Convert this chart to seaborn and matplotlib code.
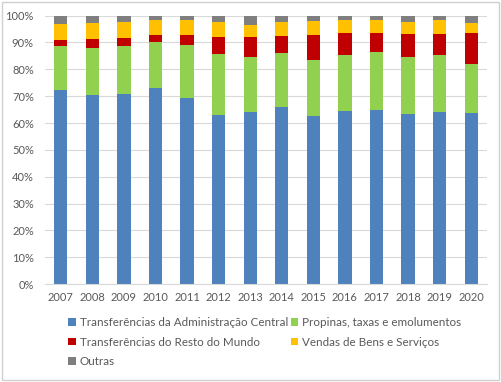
import matplotlib
matplotlib.use("Agg")
import matplotlib.pyplot as plt
from matplotlib.patches import Rectangle, Patch
from matplotlib.ticker import PercentFormatter
import seaborn as sns
import numpy as np
import pandas as pd

# ── Data (shares in %) ──────────────────────────────────────────────────────
years = [2007, 2008, 2009, 2010, 2011, 2012, 2013,
         2014, 2015, 2016, 2017, 2018, 2019, 2020]
transf_adm_central = [72.3, 70.4, 70.8, 72.9, 69.4, 63.1, 64.2,
                      66.0, 62.7, 64.6, 65.0, 63.4, 64.1, 63.7]
propinas = [16.5, 17.4, 17.9, 17.1, 19.7, 22.7, 20.4,
            20.1, 20.8, 20.6, 21.5, 21.2, 21.2, 18.3]
transf_resto_mundo = [2.1, 3.4, 3.1, 2.9, 3.8, 6.4, 7.3,
                      6.3, 9.4, 8.3, 7.0, 8.4, 8.0, 11.4]
vendas = [6.1, 6.1, 6.0, 5.6, 5.4, 5.6, 4.5,
          5.1, 5.0, 4.8, 4.9, 4.8, 5.0, 4.0]
outras = [3.0, 2.7, 2.2, 1.5, 1.7, 2.2, 3.6,
          2.5, 2.1, 1.7, 1.6, 2.2, 1.7, 2.6]

series_names = ["Transferências da Administração Central",
                "Propinas, taxas e emolumentos",
                "Transferências do Resto do Mundo",
                "Vendas de Bens e Serviços",
                "Outras"]
series_values = [transf_adm_central, propinas, transf_resto_mundo, vendas, outras]
COLORS = ["#4F81BD", "#92D050", "#C00000", "#FFC000", "#7F7F7F"]

TEXT = "#595959"
GRID = "#D9D9D9"

sns.set_theme(style="white")
plt.rcParams["font.family"] = ["Lato", "DejaVu Sans"]

df = pd.DataFrame({"year": [str(y) for y in years]})
cum = np.cumsum(np.array(series_values), axis=0)

fig = plt.figure(figsize=(5.02, 3.82), dpi=100)
ax = fig.add_axes([0.0896, 0.2565, 0.8804, 0.7025])

# stacked bars: draw cumulative totals from the top layer down
for i in reversed(range(len(series_names))):
    df["v"] = cum[i]
    sns.barplot(data=df, x="year", y="v", color=COLORS[i], width=0.42,
                saturation=1, ax=ax, linewidth=0)

ax.set_ylim(0, 100)
ax.set_xlim(-0.5, len(years) - 0.5)
ax.set_yticks(np.arange(0, 101, 10))
ax.yaxis.set_major_formatter(PercentFormatter(decimals=0))
ax.set_xlabel("")
ax.set_ylabel("")
ax.tick_params(axis="both", length=0, labelsize=8, colors=TEXT)
ax.tick_params(axis="x", pad=6)
ax.tick_params(axis="y", pad=8)
ax.grid(axis="y", color=GRID, linewidth=0.8)
ax.set_axisbelow(True)
for s in ["top", "right", "left"]:
    ax.spines[s].set_visible(False)
ax.spines["bottom"].set_color(GRID)
ax.spines["bottom"].set_linewidth(0.8)

handles = [Patch(facecolor=c, edgecolor="none") for c in COLORS]
order = [0, 2, 4, 1, 3]
fig.legend([handles[i] for i in order], [series_names[i] for i in order],
           ncol=2, loc="upper left", bbox_to_anchor=(0.127, 0.182),
           frameon=False, fontsize=8.4, labelcolor=TEXT,
           handlelength=0.65, handleheight=0.65, handletextpad=0.3,
           columnspacing=0.25, labelspacing=0.72, borderaxespad=0)

fig.patches.append(Rectangle((0.004, 0.005), 0.99, 0.99, transform=fig.transFigure,
                             fill=False, edgecolor="#D0D0D0", linewidth=1))

fig.savefig("out.png", dpi=100)
